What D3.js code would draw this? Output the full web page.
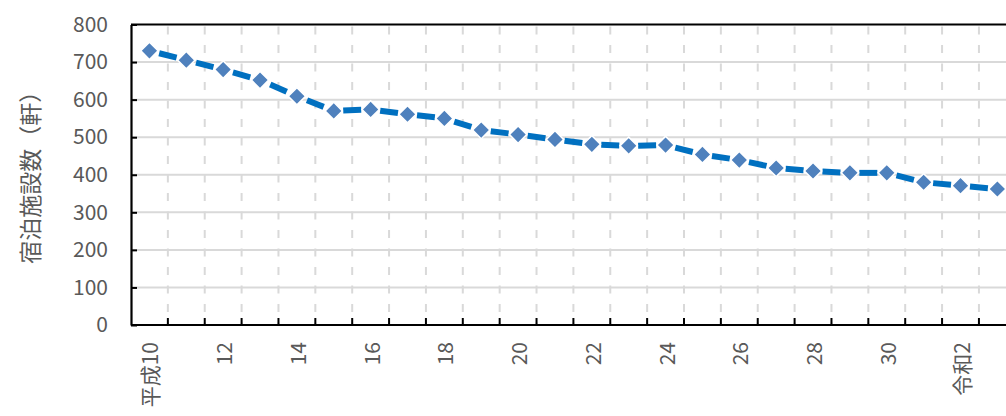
<!DOCTYPE html>
<html>
<head>
<meta charset="utf-8">
<script src="https://cdn.jsdelivr.net/npm/d3@7"></script>
<style>
  html, body { margin: 0; padding: 0; background: #fff; }
  svg { display: block; }
  text { font-family: "Noto Sans CJK JP", "Noto Sans", sans-serif; fill: #595959; }
</style>
</head>
<body>
<svg id="chart" width="1006" height="416"></svg>
<script>
const categories = ["平成10","11","12","13","14","15","16","17","18","19","20","21","22","23","24","25","26","27","28","29","30","令和元","令和2","3"];
const tickLabels = ["平成10","","12","","14","","16","","18","","20","","22","","24","","26","","28","","30","","令和2",""];
const facilities = [730, 705, 680, 652, 609, 570, 574, 561, 550, 519, 507, 494, 481, 477, 479, 454, 439, 418, 410, 405, 405, 380, 371, 362];
const yTicks = [0, 100, 200, 300, 400, 500, 600, 700, 800];
const yTitle = "宿泊施設数（軒）";

(function () {
const svg = d3.select("#chart");
const mLeft = 131, mRight = 1015.8, mTop = 24.5, mBottom = 325;

const x = d3.scaleBand().domain(categories).range([mLeft, mRight]).padding(0);
const y = d3.scaleLinear().domain([0, 800]).range([mBottom, mTop]);

// horizontal gridlines
svg.append("g").selectAll("line").data(yTicks.filter(v => v > 0 && v < 800)).join("line")
  .attr("x1", mLeft).attr("x2", mRight)
  .attr("y1", d => y(d)).attr("y2", d => y(d))
  .attr("stroke", "#D9D9D9").attr("stroke-width", 2);

// vertical dashed gridlines at category boundaries
const bounds = categories.slice(1).map(c => x(c));
svg.append("g").selectAll("line").data(bounds).join("line")
  .attr("x1", d => d).attr("x2", d => d)
  .attr("y1", mTop).attr("y2", mBottom)
  .attr("stroke", "#D9D9D9").attr("stroke-width", 2)
  .attr("stroke-dasharray", "8,10.5").attr("stroke-dashoffset", -2);

// top border
svg.append("line").attr("x1", mLeft).attr("x2", mRight)
  .attr("y1", y(800)).attr("y2", y(800))
  .attr("stroke", "#000").attr("stroke-width", 2.2);

// y axis
const yAxis = svg.append("g").attr("transform", `translate(${mLeft},0)`)
  .call(d3.axisLeft(y).tickValues(yTicks).tickSizeInner(-6).tickSizeOuter(0).tickPadding(23));
yAxis.select(".domain").attr("stroke", "#000").attr("stroke-width", 2.2);
yAxis.selectAll(".tick line").attr("stroke", "#000").attr("stroke-width", 2);
yAxis.selectAll(".tick text").attr("font-size", 21).attr("fill", "#595959")
  .style("font-family", '"Noto Sans CJK JP", sans-serif');

// x axis: boundary ticks
const xAxisG = svg.append("g");
xAxisG.append("line").attr("x1", mLeft).attr("x2", mRight)
  .attr("y1", mBottom).attr("y2", mBottom).attr("stroke", "#000").attr("stroke-width", 2.2);
xAxisG.selectAll("line.bt").data(bounds).join("line").attr("class", "bt")
  .attr("x1", d => d).attr("x2", d => d)
  .attr("y1", mBottom).attr("y2", mBottom - 7)
  .attr("stroke", "#000").attr("stroke-width", 2);
xAxisG.selectAll("text").data(categories.map((c, i) => ({c, t: tickLabels[i]})).filter(d => d.t)).join("text")
  .attr("transform", d => `translate(${x(d.c) + x.bandwidth() / 2},${mBottom + 17}) rotate(-90)`)
  .attr("text-anchor", "end").attr("dominant-baseline", "central")
  .attr("font-size", 21).attr("fill", "#595959")
  .text(d => d.t);

// y title
svg.append("text")
  .attr("transform", `translate(29,${(mTop + mBottom) / 2 - 3}) rotate(-90)`)
  .attr("text-anchor", "middle").attr("dominant-baseline", "central")
  .attr("font-size", 23).attr("fill", "#595959")
  .text(yTitle);

// line segments (dashed, centered between markers)
const pts = categories.map((c, i) => [x(c) + x.bandwidth() / 2, y(facilities[i])]);
const segs = d3.pairs(pts);
const segLen = d => Math.hypot(d[1][0] - d[0][0], d[1][1] - d[0][1]);
const dashLen = d => Math.min(18, segLen(d) - 16);
svg.append("g").selectAll("line").data(segs).join("line")
  .attr("x1", d => d[0][0]).attr("y1", d => d[0][1])
  .attr("x2", d => d[1][0]).attr("y2", d => d[1][1])
  .attr("stroke", "#0070C0").attr("stroke-width", 6)
  .attr("stroke-dasharray", d => `${dashLen(d)} ${segLen(d)}`)
  .attr("stroke-dashoffset", d => -(segLen(d) - dashLen(d)) / 2);

// markers
svg.append("g").selectAll("path").data(pts).join("path")
  .attr("d", d3.symbol(d3.symbolSquare, 150))
  .attr("transform", d => `translate(${d[0]},${d[1]}) rotate(45)`)
  .attr("fill", "#4F81BD").attr("stroke", "#fff").attr("stroke-width", 1.5);
})();
</script>
</body>
</html>
